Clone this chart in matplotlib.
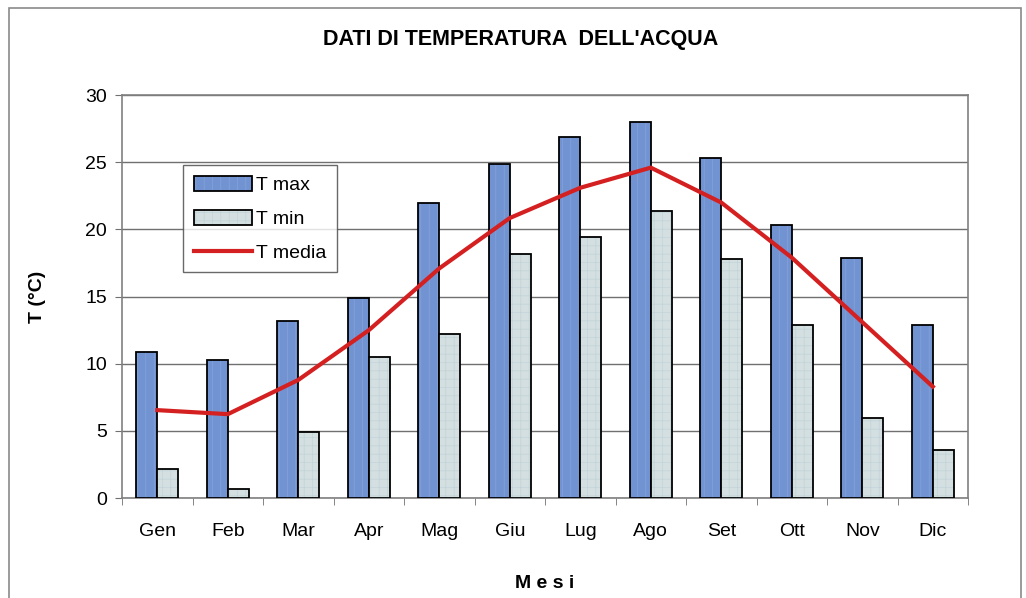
import numpy as np
import matplotlib
matplotlib.use('Agg')
import matplotlib.pyplot as plt
from matplotlib.patches import Rectangle

MONTHS = ['Gen', 'Feb', 'Mar', 'Apr', 'Mag', 'Giu', 'Lug', 'Ago', 'Set', 'Ott', 'Nov', 'Dic']
T_MAX = [10.9, 10.3, 13.2, 14.9, 22.0, 24.9, 26.9, 28.0, 25.3, 20.3, 17.9, 12.9]
T_MIN = [2.2, 0.7, 4.9, 10.5, 12.2, 18.2, 19.4, 21.4, 17.8, 12.9, 6.0, 3.6]
T_MEDIA = [6.55, 6.25, 8.8, 12.5, 17.1, 20.85, 23.1, 24.6, 22.0, 17.9, 13.1, 8.3]

MAX_COLOR = '#7193d2'
MIN_COLOR = '#d3dfe0'
LINE_COLOR = '#d42020'

plt.rcParams['font.family'] = ['Liberation Sans', 'DejaVu Sans']
plt.rcParams['hatch.linewidth'] = 0.4

fig = plt.figure(figsize=(10.26, 5.98), dpi=100)
ax = fig.add_axes([0.119, 0.167, 0.8245, 0.674])

# outer chart frame
fig.patches.append(Rectangle((9 / 1026, -0.01), 1012 / 1026, 1 - 8 / 598 + 0.01,
                             transform=fig.transFigure, fill=False,
                             edgecolor='#8a8a8a', linewidth=1.2))

x = np.arange(len(MONTHS))
bar_w = 0.3

bmax = ax.bar(x - bar_w / 2, T_MAX, width=bar_w, color=MAX_COLOR, edgecolor='black',
              linewidth=1.3, hatch='||', label='T max', zorder=3)
bmin = ax.bar(x + bar_w / 2, T_MIN, width=bar_w, color=MIN_COLOR, edgecolor='black',
              linewidth=1.3, hatch='++', label='T min', zorder=3)
line, = ax.plot(x, T_MEDIA, color=LINE_COLOR, linewidth=3, label='T media', zorder=4)

# lighter hatch colour than the black bar edges
for b in bmax:
    b._hatch_color = (0.55, 0.65, 0.85, 1)
for b in bmin:
    b._hatch_color = (0.75, 0.82, 0.85, 1)

ax.set_xlim(-0.5, len(MONTHS) - 0.5)
ax.set_ylim(0, 30)
ax.set_yticks(range(0, 31, 5))
ax.yaxis.grid(True, color='#707070', linewidth=1.0, zorder=0)
ax.set_axisbelow(True)

ax.set_xticks(x)
ax.set_xticklabels(MONTHS, fontsize=14)
ax.set_xticks(np.arange(-0.5, len(MONTHS)), minor=True)
ax.tick_params(axis='x', which='major', length=0, pad=18)
ax.tick_params(axis='x', which='minor', length=5, color='#707070', direction='out')
ax.tick_params(axis='y', length=5, color='#707070', labelsize=14, pad=6)

for side in ['top', 'right', 'left', 'bottom']:
    ax.spines[side].set_color('#808080')
    ax.spines[side].set_linewidth(1.2)

ax.set_ylabel('T (°C)', fontsize=14, fontweight='bold', labelpad=28)
ax.set_xlabel('M e s i', fontsize=14, fontweight='bold', labelpad=25)
fig.text(0.507, 0.934, "DATI DI TEMPERATURA  DELL'ACQUA", ha='center', va='center',
         fontsize=15.5, fontweight='bold')

leg = ax.legend([bmax, bmin, line], ['T max', 'T min', 'T media'],
                loc='upper left', bbox_to_anchor=(0.072, 0.826), fontsize=14,
                frameon=True, fancybox=False, edgecolor='#444444',
                handlelength=3.0, handleheight=0.8, labelspacing=0.8,
                borderpad=0.55, handletextpad=0.2, borderaxespad=0)
leg.get_frame().set_linewidth(1.0)
leg.set_zorder(6)

fig.savefig('out.png', dpi=100)
